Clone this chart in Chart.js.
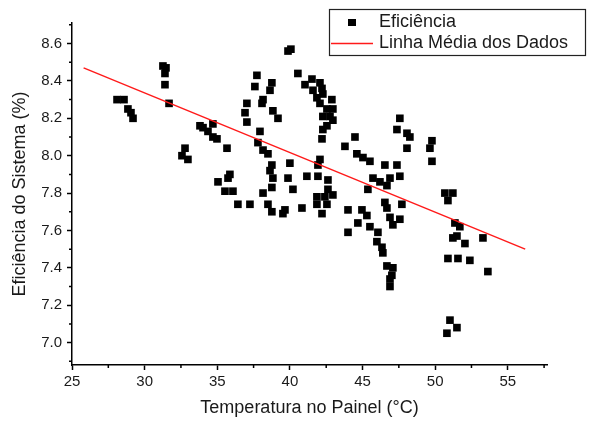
<!DOCTYPE html>
<html>
<head>
<meta charset="utf-8">
<script src="https://cdn.jsdelivr.net/npm/chart.js@4"></script>
<style>
  html, body { margin: 0; padding: 0; background: #fff; }
  #wrap { width: 593px; height: 421px; position: relative; }
</style>
</head>
<body>
<div id="wrap"><canvas id="effChart"></canvas></div>
<script>
// temperatura do painel (°C) e eficiência (%)
const tempPainel = [
  28.10, 28.58, 28.85, 29.06, 29.20, 31.26, 31.47, 31.40, 31.40, 31.68,
  32.78, 32.57, 32.98, 33.81, 34.02, 34.36, 34.70, 34.70, 34.98, 35.67,
  35.05, 35.87, 35.74, 35.53, 36.08, 36.42, 37.25, 37.73, 37.59, 38.76,
  38.63, 38.15, 38.08, 37.04, 36.91, 37.04, 38.83, 39.18, 37.94, 37.80,
  38.15, 38.49, 38.76, 38.63, 40.00, 39.87, 40.21, 38.83, 38.76, 38.15,
  38.49, 38.76, 39.52, 39.66, 40.83, 39.87, 40.07, 40.55, 41.04, 41.52,
  42.07, 42.21, 41.59, 41.86, 42.27, 42.89, 42.07, 42.55, 42.96, 42.27,
  42.76, 42.96, 42.55, 42.27, 42.21, 43.79, 42.07, 41.93, 41.17, 41.93,
  42.62, 42.62, 41.86, 42.41, 42.96, 41.86, 42.55, 42.21, 44.48, 44.61,
  45.03, 45.51, 46.54, 47.37, 45.72, 46.20, 46.89, 47.57, 45.37, 46.68,
  46.54, 46.68, 47.71, 46.89, 47.57, 47.09, 44.00, 44.96, 45.30, 44.68,
  45.51, 46.06, 44.00, 45.99, 46.34, 46.40, 46.68, 47.09, 47.02, 46.89,
  46.89, 47.57, 47.37, 48.06, 48.26, 48.06, 49.78, 49.64, 49.78, 50.67,
  51.22, 50.88, 51.36, 51.70, 51.22, 51.50, 52.05, 53.29, 50.88, 51.57,
  52.39, 53.63, 51.02, 51.50, 50.81
];
const eficiencia = [
  8.30, 8.30, 8.25, 8.23, 8.20, 8.48, 8.47, 8.44, 8.38, 8.28,
  8.04, 8.00, 7.98, 8.16, 8.15, 8.13, 8.17, 8.10, 8.09, 8.04,
  7.86, 7.90, 7.88, 7.81, 7.81, 7.74, 7.74, 8.43, 8.37, 8.39,
  8.35, 8.30, 8.28, 8.28, 8.23, 8.18, 8.24, 8.20, 8.13, 8.07,
  8.03, 8.01, 7.95, 7.92, 7.96, 7.88, 7.82, 7.88, 7.83, 7.80,
  7.74, 7.70, 7.69, 7.71, 7.72, 8.56, 8.57, 8.44, 8.38, 8.41,
  8.39, 8.36, 8.35, 8.31, 8.33, 8.30, 8.28, 8.25, 8.25, 8.21,
  8.21, 8.19, 8.16, 8.14, 8.09, 8.05, 7.98, 7.95, 7.89, 7.89,
  7.87, 7.82, 7.78, 7.78, 7.79, 7.74, 7.74, 7.69, 8.10, 8.01,
  7.99, 7.97, 7.95, 7.95, 7.88, 7.86, 7.88, 7.89, 7.82, 7.84,
  7.75, 7.72, 7.74, 7.67, 7.66, 7.63, 7.71, 7.71, 7.68, 7.64,
  7.62, 7.59, 7.59, 7.54, 7.51, 7.48, 7.41, 7.40, 7.36, 7.34,
  7.30, 8.20, 8.14, 8.12, 8.10, 8.04, 8.08, 8.04, 7.97, 7.80,
  7.80, 7.76, 7.64, 7.62, 7.56, 7.57, 7.53, 7.56, 7.45, 7.45,
  7.44, 7.38, 7.12, 7.08, 7.05
];

// linha média dos dados (extremos)
const linhaX = [25.8, 56.2];
const linhaY = [8.47, 7.50];

const xTicks = [25, 30, 35, 40, 45, 50, 55];
const xMinor = [27.5, 32.5, 37.5, 42.5, 47.5, 52.5, 57.5];
const yTicks = [7.0, 7.2, 7.4, 7.6, 7.8, 8.0, 8.2, 8.4, 8.6];
const yMinor = [6.9, 7.1, 7.3, 7.5, 7.7, 7.9, 8.1, 8.3, 8.5, 8.7];

const FONT = '"Liberation Sans", Arial, sans-serif';
const TXT = '#1a1a1a';

const minorTicks = {
  id: 'minorTicks',
  afterDraw(chart) {
    const ctx = chart.ctx;
    const xs = chart.scales.x, ys = chart.scales.y;
    ctx.save();
    ctx.strokeStyle = '#000';
    ctx.lineWidth = 1.5;
    ctx.beginPath();
    xMinor.forEach(v => {
      const px = xs.getPixelForValue(v);
      ctx.moveTo(px, xs.top);
      ctx.lineTo(px, xs.top + 3);
    });
    yMinor.forEach(v => {
      const py = ys.getPixelForValue(v);
      ctx.moveTo(ys.right, py);
      ctx.lineTo(ys.right - 3, py);
    });
    ctx.stroke();
    ctx.restore();
  }
};

const boxLegend = {
  id: 'boxLegend',
  afterDraw(chart) {
    const ctx = chart.ctx;
    const ds = chart.data.datasets;
    ctx.save();
    ctx.strokeStyle = '#222';
    ctx.lineWidth = 1.2;
    ctx.strokeRect(329.5, 9.5, 256, 46);
    ctx.font = '18px ' + FONT;
    ctx.fillStyle = TXT;
    ctx.textBaseline = 'middle';
    ctx.fillText(ds[0].label, 379, 22);
    ctx.fillText(ds[1].label, 379, 43);
    ctx.fillStyle = ds[0].backgroundColor;
    ctx.fillRect(348, 19, 8, 7);
    ctx.strokeStyle = ds[1].borderColor;
    ctx.lineWidth = 1.5;
    ctx.beginPath();
    ctx.moveTo(331, 43.5);
    ctx.lineTo(373, 43.5);
    ctx.stroke();
    ctx.restore();
  }
};

const ctx = document.getElementById('effChart').getContext('2d');
new Chart(ctx, {
  type: 'scatter',
  data: {
    datasets: [
      {
        label: 'Eficiência',
        data: tempPainel.map((t, i) => ({ x: t, y: eficiencia[i] })),
        backgroundColor: '#000',
        borderColor: '#000',
        pointStyle: 'rect',
        pointRadius: 5.4,
        pointBorderWidth: 0,
        order: 2
      },
      {
        label: 'Linha Média dos Dados',
        type: 'line',
        data: linhaX.map((t, i) => ({ x: t, y: linhaY[i] })),
        borderColor: '#ff1a1a',
        borderWidth: 1.5,
        pointRadius: 0,
        fill: false,
        order: 1
      }
    ]
  },
  options: {
    responsive: true,
    maintainAspectRatio: false,
    animation: false,
    layout: { padding: { left: 0, top: 23, right: 46, bottom: 0 } },
    plugins: {
      legend: { display: false },
      tooltip: { enabled: false }
    },
    scales: {
      x: {
        type: 'linear',
        min: 25,
        max: 57.7,
        afterFit: s => { s.height = 56; },
        afterBuildTicks: s => { s.ticks = xTicks.map(v => ({ value: v })); },
        border: { display: true, color: '#000', width: 1.5 },
        grid: { drawOnChartArea: false, drawTicks: true, tickLength: 5, tickColor: '#000', tickWidth: 1.5 },
        ticks: { color: TXT, font: { family: FONT, size: 15 }, padding: 3, maxRotation: 0 },
        title: {
          display: true,
          text: 'Temperatura no Painel (°C)',
          color: TXT,
          font: { family: FONT, size: 18 },
          padding: { top: 0, bottom: 2 }
        }
      },
      y: {
        type: 'linear',
        min: 6.88,
        max: 8.71,
        afterFit: s => { s.width = 72; },
        afterBuildTicks: s => { s.ticks = yTicks.map(v => ({ value: v })); },
        border: { display: true, color: '#000', width: 1.5 },
        grid: { drawOnChartArea: false, drawTicks: true, tickLength: 5, tickColor: '#000', tickWidth: 1.5 },
        ticks: {
          color: TXT,
          font: { family: FONT, size: 15 },
          padding: 5,
          callback: v => v.toFixed(1)
        },
        title: {
          display: true,
          text: 'Eficiência do Sistema (%)',
          color: TXT,
          font: { family: FONT, size: 18 },
          padding: { top: 9, bottom: 0 }
        }
      }
    }
  },
  plugins: [minorTicks, boxLegend]
});
</script>
</body>
</html>
